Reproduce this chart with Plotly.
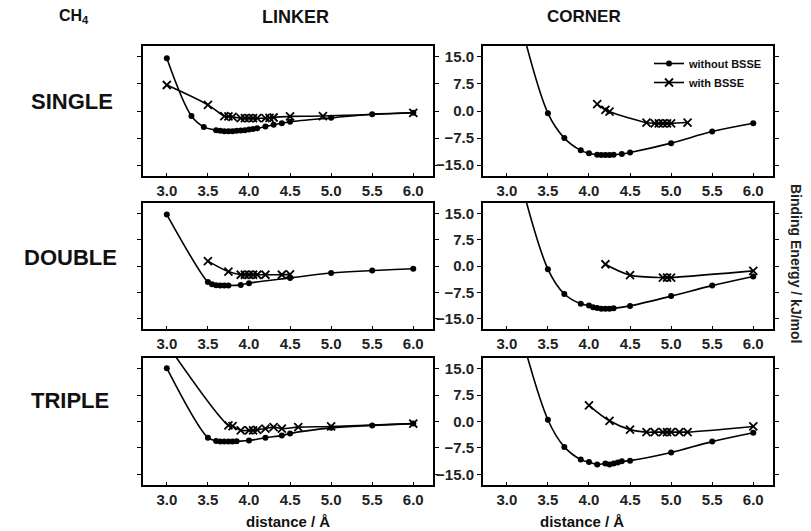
import plotly.graph_objects as go
from plotly.subplots import make_subplots

# distance (Angstrom) and binding energy (kJ/mol)
# LINKER column
ls_wo_x = [3.0, 3.3, 3.45, 3.6, 3.65, 3.7, 3.75, 3.8, 3.85, 3.9, 3.95, 4.0, 4.05, 4.1, 4.2, 4.3, 4.4, 4.5, 5.0, 5.5, 6.0]
ls_wo_y = [14.6, -1.4, -4.4, -5.3, -5.5, -5.6, -5.6, -5.6, -5.5, -5.4, -5.3, -5.1, -5.0, -4.8, -4.3, -3.8, -3.4, -3.0, -1.9, -0.9, -0.5]
ls_w_x = [3.0, 3.5, 3.7, 3.75, 3.8, 3.9, 3.95, 4.0, 4.05, 4.1, 4.2, 4.25, 4.3, 4.5, 4.9, 6.0]
ls_w_y = [7.2, 1.7, -1.4, -1.5, -1.6, -2.0, -2.0, -2.0, -2.0, -2.0, -2.0, -1.9, -1.8, -1.5, -1.4, -0.5]

ld_wo_x = [3.0, 3.5, 3.55, 3.6, 3.65, 3.7, 3.75, 3.9, 4.0, 4.5, 5.0, 5.5, 6.0]
ld_wo_y = [14.7, -4.6, -5.2, -5.5, -5.6, -5.6, -5.6, -5.4, -4.9, -3.4, -2.0, -1.3, -0.8]
ld_w_x = [3.5, 3.75, 3.9, 3.95, 4.0, 4.05, 4.1, 4.2, 4.4, 4.5]
ld_w_y = [1.4, -1.6, -2.5, -2.5, -2.5, -2.5, -2.5, -2.5, -2.5, -2.4]

lt_wo_x = [3.0, 3.5, 3.6, 3.65, 3.7, 3.75, 3.8, 3.85, 4.0, 4.2, 4.4, 4.5, 5.0, 5.5, 6.0]
lt_wo_y = [15.1, -4.6, -5.5, -5.7, -5.7, -5.7, -5.7, -5.6, -5.4, -4.6, -4.0, -3.4, -1.8, -1.1, -0.6]
lt_w_x = [3.0, 3.75, 3.8, 3.9, 4.0, 4.05, 4.1, 4.2, 4.3, 4.4, 4.6, 5.0, 6.0]
lt_w_y = [22.0, -1.1, -1.3, -2.5, -2.5, -2.5, -2.4, -2.0, -1.6, -2.0, -1.6, -1.4, -0.6]

# CORNER column
cs_wo_x = [3.0, 3.5, 3.7, 3.9, 4.0, 4.1, 4.15, 4.2, 4.25, 4.3, 4.4, 4.5, 5.0, 5.5, 6.0]
cs_wo_y = [40.0, -0.6, -7.5, -10.9, -11.7, -12.1, -12.2, -12.2, -12.2, -12.1, -11.9, -11.5, -8.9, -5.7, -3.4]
cs_w_x = [4.1, 4.2, 4.25, 4.7, 4.8, 4.85, 4.9, 4.95, 5.0, 5.2]
cs_w_y = [1.9, 0.3, -0.2, -3.2, -3.4, -3.4, -3.4, -3.4, -3.4, -3.2]

cd_wo_x = [3.0, 3.5, 3.7, 3.9, 4.0, 4.05, 4.1, 4.15, 4.2, 4.25, 4.3, 4.5, 5.0, 5.5, 6.0]
cd_wo_y = [40.0, -0.9, -8.0, -10.8, -11.3, -11.8, -12.0, -12.2, -12.2, -12.2, -12.1, -11.4, -8.6, -5.6, -3.0]
cd_w_x = [4.2, 4.5, 4.9, 4.95, 5.0, 6.0]
cd_w_y = [0.5, -2.6, -3.3, -3.3, -3.3, -1.4]

ct_wo_x = [3.0, 3.5, 3.7, 3.9, 4.0, 4.1, 4.2, 4.25, 4.3, 4.35, 4.4, 4.5, 5.0, 5.5, 6.0]
ct_wo_y = [40.0, 0.5, -7.2, -10.8, -11.5, -12.2, -11.9, -12.2, -11.9, -11.6, -11.3, -11.1, -8.8, -5.7, -3.2]
ct_w_x = [4.0, 4.25, 4.5, 4.7, 4.8, 4.9, 4.95, 5.0, 5.1, 5.2, 6.0]
ct_w_y = [4.6, 0.2, -2.3, -3.0, -3.0, -3.0, -3.0, -3.0, -3.0, -3.0, -1.4]

panels = [
    (1, 1, ls_wo_x, ls_wo_y, ls_w_x, ls_w_y),
    (1, 2, cs_wo_x, cs_wo_y, cs_w_x, cs_w_y),
    (2, 1, ld_wo_x, ld_wo_y, ld_w_x, ld_w_y),
    (2, 2, cd_wo_x, cd_wo_y, cd_w_x, cd_w_y),
    (3, 1, lt_wo_x, lt_wo_y, lt_w_x, lt_w_y),
    (3, 2, ct_wo_x, ct_wo_y, ct_w_x, ct_w_y),
]

x_ticks = [3.0, 3.5, 4.0, 4.5, 5.0, 5.5, 6.0]
y_ticks = [-15.0, -7.5, 0.0, 7.5, 15.0]

W, H = 811, 531
OFF = 8  # page body margin, the plot sits 8px in from the window corner
FONT = "Liberation Sans, Arial, sans-serif"


def px(v):
    return (v - OFF) / W


def py(v):
    return 1 - (v - OFF) / H


fig = make_subplots(rows=3, cols=2)

for r, c, wx, wy, bx, by in panels:
    first = (r == 1 and c == 2)
    fig.add_trace(go.Scatter(
        x=wx, y=wy, mode="lines+markers", name="without BSSE",
        line=dict(color="black", width=1.6, shape="spline", smoothing=1.0),
        marker=dict(symbol="circle", size=6, color="black"),
        showlegend=first, legendrank=1), row=r, col=c)
    fig.add_trace(go.Scatter(
        x=bx, y=by, mode="lines+markers", name="with BSSE",
        line=dict(color="black", width=1.6, shape="spline", smoothing=1.0),
        marker=dict(symbol="x-thin-open", size=8, color="black",
                    line=dict(color="black", width=1.8)),
        showlegend=first, legendrank=2), row=r, col=c)

# panel positions in window pixels
xdom = {1: (143, 433), 2: (483, 773)}
ydom = {1: (46, 176), 2: (203, 329), 3: (358, 485)}

for r in (1, 2, 3):
    for c in (1, 2):
        idx = (r - 1) * 2 + c
        xa = "xaxis" if idx == 1 else "xaxis%d" % idx
        ya = "yaxis" if idx == 1 else "yaxis%d" % idx
        x0, x1 = xdom[c]
        y0, y1 = ydom[r]
        fig.layout[xa].update(
            domain=[px(x0), px(x1)], range=[2.71, 6.24],
            tickvals=x_ticks, tickformat=".1f",
            showline=True, linecolor="black", linewidth=2, mirror=True,
            ticks="inside", ticklen=3, tickcolor="black",
            showgrid=False, zeroline=False,
            tickfont=dict(family=FONT, size=15, color="#222", weight="bold"))
        fig.layout[ya].update(
            domain=[py(y1), py(y0)], range=[-18, 18],
            tickvals=y_ticks, tickformat=".1f",
            showticklabels=(c == 2),
            showline=True, linecolor="black", linewidth=2, mirror="ticks",
            ticks="outside", ticklen=4, tickcolor="black",
            showgrid=False, zeroline=False,
            tickfont=dict(family=FONT, size=15, color="#222", weight="bold"))

labels = [
    ("CH<sub>4</sub>", 74, 17, 16),
    ("LINKER", 295, 17, 18),
    ("CORNER", 584, 17, 17),
    ("SINGLE", 72, 101, 22),
    ("DOUBLE", 70, 257, 22),
    ("TRIPLE", 70, 400, 22),
    ("distance / Å", 288, 521, 15),
    ("distance / Å", 582, 521, 15),
]
for txt, x, y, fs in labels:
    fig.add_annotation(text=txt, x=px(x), y=py(y), xref="paper", yref="paper",
                       showarrow=False, xanchor="center", yanchor="middle",
                       font=dict(family=FONT, size=fs, color="#111", weight="bold"))

fig.add_annotation(text="Binding Energy / kJ/mol", x=px(796), y=py(263),
                   xref="paper", yref="paper", showarrow=False, textangle=90,
                   xanchor="center", yanchor="middle",
                   font=dict(family=FONT, size=14, color="#222", weight="bold"))

fig.update_layout(
    width=W, height=H, margin=dict(l=0, r=0, t=0, b=0),
    paper_bgcolor="white", plot_bgcolor="white",
    legend=dict(x=px(768), y=py(49), xanchor="right", yanchor="top",
                bgcolor="rgba(0,0,0,0)", itemwidth=30, tracegroupgap=0,
                font=dict(family=FONT, size=11, color="#111", weight="bold")),
)

fig.write_html("out.html")
